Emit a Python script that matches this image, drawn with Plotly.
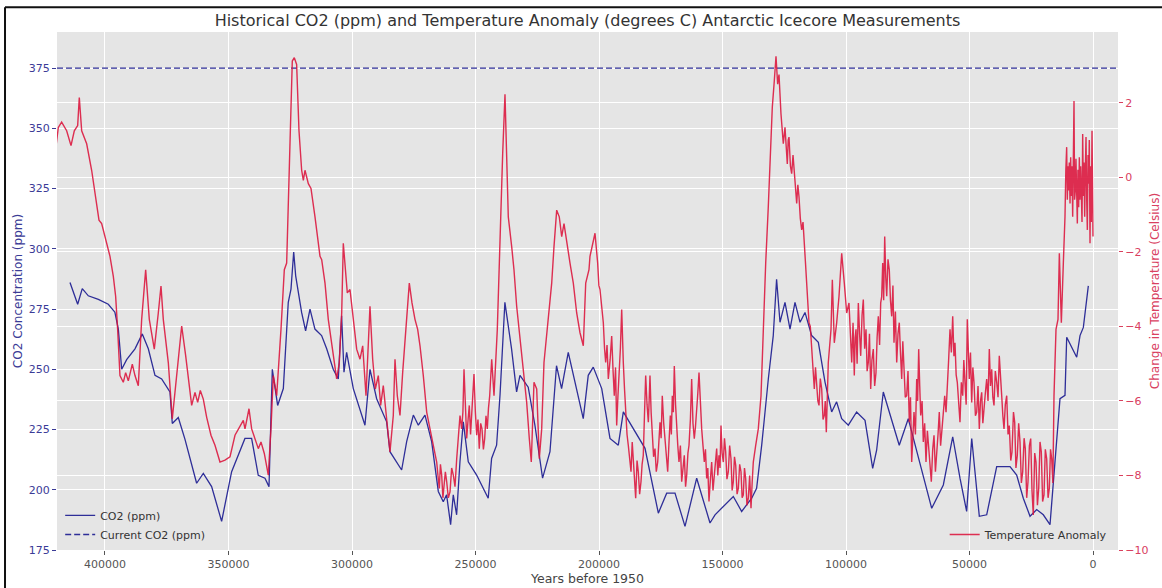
import plotly.graph_objects as go

# ---------------- data ----------------
co2_years = [
    414170, 411060, 409200, 406760, 402700, 398660, 396000, 394600, 393240, 391230,
    387860, 384900, 382460, 379760, 377060, 373700, 372750, 370320, 367640, 362900,
    360200, 356830, 352780, 348730, 343340, 340640, 337950, 335240, 333600, 332260,
    330100, 327800, 325800, 324700, 323600, 322800, 320400, 318780, 317000, 315000,
    312300, 310250, 307600, 305550, 304200, 303240, 302170, 299470, 294750, 292720,
    290020, 285970, 284620, 279900, 277870, 275170, 273150, 270450, 267750, 265050,
    263050, 261700, 260070, 259000, 257640, 256290, 254950, 252920, 249540, 244850,
    243480, 241460, 240080, 238100, 235400, 233360, 232000, 228660, 225950, 222840,
    219850, 217200, 215140, 212450, 206370, 204350, 202320, 198900, 195550, 192180,
    190150, 185420, 181370, 175970, 172600, 169230, 165180, 160450, 155060, 153030,
    145620, 142240, 138180, 136190, 134130, 131450, 129450, 128100, 126720, 124700,
    122670, 120650, 118600, 116600, 113900, 111200, 108500, 105800, 103800, 101750,
    99060, 95700, 92300, 89200, 87600, 84900, 81540, 78440, 74800, 70080,
    65300, 60600, 56800, 53850, 51150, 49100, 46030, 43040, 38990, 33600,
    30900, 28220, 25500, 22800, 20120, 17410, 15380, 13360, 11340, 10650,
    6600, 5260, 3910, 1890,
]
co2_ppm = [
    286, 277, 283.5, 280.5, 279, 277, 273.7, 266.7, 250, 254,
    258.5, 264.7, 258.5, 247.5, 246, 240.6, 227.5, 230, 221, 202.7,
    206.8, 201.3, 186.9, 207.5, 221.3, 221.3, 206, 204.8, 201.3, 250,
    235, 242, 277.8, 283.3, 298.7, 288.8, 273.6, 266, 275, 266.7,
    264, 258.5, 250, 246, 272.2, 248.8, 257, 242, 226.8, 250,
    237.8, 228.2, 215.8, 208.2, 220, 231, 226.8, 231, 220, 199.3,
    195, 197.9, 185.5, 197.9, 189.6, 211.6, 228.2, 211.6, 206.1, 196.5,
    213, 218.5, 239.2, 277.8, 258.5, 240.6, 247.5, 242.6, 226.8, 204.8,
    215.8, 251.5, 242, 257, 229.5, 247.5, 250.9, 242, 221.3, 218.5,
    232.3, 224, 217.2, 190.3, 198.6, 198.6, 184.8, 204.8, 186.2, 189.6,
    197.2, 191, 196.5, 200.6, 218.5, 246, 264, 287.4, 269.5, 277.8,
    266.7, 277.8, 269.5, 273.6, 264, 261.2, 244.7, 232.3, 236.5, 229.5,
    226.8, 232.3, 228.8, 208.9, 216.4, 240.6, 229.5, 218.5, 229.5, 211.6,
    192.3, 202, 222, 204.8, 191, 221.3, 189, 189.6, 209.6, 209.6,
    206.1, 196.5, 189, 191.8, 189.6, 185.5, 211.6, 237.8, 239.2, 263.3,
    255, 264, 267.4, 284.6,
]

temp_years = [
    420200, 418900, 417550, 415520, 413760, 412420, 411060, 410400, 409440, 407420,
    405400, 404050, 402430, 401350, 399730, 397980, 396630, 395690, 394880, 393940,
    392590, 391640, 390560, 388940, 387860, 386510, 385150, 383530, 382060, 380040,
    378420, 377330, 376400, 374370, 372760, 370970, 368950, 367330, 366270, 364910,
    363560, 362480, 361410, 360200, 358830, 357090, 355470, 353450, 351420, 349400,
    347370, 345350, 344000, 343320, 341700, 340620, 339280, 337930, 336850, 335500,
    333890, 332800, 331860, 330490, 328750, 327400, 326450, 325110, 324170, 323360,
    322410, 321460, 320380, 319700, 319030, 317680, 316600, 314980, 312950, 312270,
    310930, 309600, 308230, 307290, 306210, 305140, 304170, 303520, 302710, 301900,
    300810, 299460, 298110, 296760, 295670, 294330, 292720, 291630, 290560, 289350,
    288400, 287330, 285970, 284620, 283280, 282590, 281660, 280570, 279490, 278550,
    277610, 276800, 275710, 274500, 273410, 272470, 271130, 269760, 268420, 267080,
    265710, 265200, 264650, 264200, 263690, 263200, 262750, 262200, 261660, 261000,
    260320, 259650, 258980, 258300, 257610, 256950, 256270, 255600, 255100, 254650,
    254100, 253560, 253000, 252510, 252000, 251540, 251100, 250610, 250050, 249520,
    249000, 248470, 247900, 247370, 246800, 246280, 245750, 245220, 244750, 244250,
    243440, 242510, 241170, 240360, 239000, 238060, 237370, 236720, 235350,
    234420, 233330, 231990, 230650, 229280, 228220, 227410, 226320, 225220, 224170,
    223200, 222270, 221170, 220120, 219150, 218220, 217130, 216080, 215100, 214170,
    213080, 211740, 210400, 209030, 207690, 206350, 205380, 204050, 203650, 201620,
    200540, 200050, 199600, 198900, 198250, 197750, 197300, 196750, 196230, 195500,
    194860, 194300, 193810, 193300, 192840, 192350, 191900, 191350, 190810, 190500,
    190160, 189650, 189190, 188650, 188140, 187600, 187040, 186550, 186110, 185650,
    185150, 184600, 184090, 183550, 183000, 182550, 182070, 181600, 181100, 180550,
    180020, 179700, 179360, 178900, 178430, 177900, 177330, 176800, 176230, 175750,
    175300, 174850, 174380, 173800, 173280, 172750, 172190, 171650, 171120, 170700,
    170320, 169900, 169510, 169000, 168550, 168100, 167610, 167050, 166520, 166000,
    165460, 164950, 164490, 164000, 163560, 163000, 162480, 161950, 161420, 160950,
    160450, 160000, 159510, 158950, 158430, 157900, 157370, 156900, 156400, 155950,
    155470, 154900, 154380, 153850, 153320, 152850, 152360, 151900, 151420, 151000,
    150610, 150150, 149670, 149200, 148710, 148200, 147640, 147100, 146560, 146100,
    145620, 145150, 144660, 144100, 143600, 143050, 142510, 142050, 141570, 141100,
    140620, 140100, 139550, 139000, 138460, 138000, 137530,
    136560, 135510, 134410, 133480, 132510, 131460,
    130770, 129840, 129030, 128340, 127670, 127120, 126320, 125380, 124700, 123760,
    123400, 123080, 122500, 121990, 121450, 120920, 120450, 119960, 119500, 119030,
    118500, 117940, 117400, 116880, 116400, 115920, 115450, 114980, 114450, 113890,
    113350, 112830, 112350, 111860, 111400, 110930, 110400, 109840, 109300, 108780,
    108400, 107970,
    107170, 106070, 105530, 104740, 103770, 102830, 101740, 100690, 99720, 98790,
    97690, 97150, 96640, 96300, 95950, 95500, 95010, 94500, 94050, 93500,
    92990, 92450, 91900, 91450, 90970, 90500, 90000, 89500, 88950, 88400,
    87860, 87400, 86920, 86400, 85950, 85550, 85140, 84750, 84330, 83900,
    83520, 83000, 82470, 82000, 81500, 81000, 80570, 80000, 79470, 78950,
    78420, 77950, 77450, 77000, 76520, 76000, 75430, 74900, 74370, 73900,
    73400, 72900, 72470, 71900, 71380, 71000, 70570, 70150, 69760, 69200,
    68700, 68150, 67610, 67050, 66520, 66000, 65460, 64900, 64370, 63800,
    63280, 62750, 62230, 61700, 61130, 60600, 60040, 59500, 58990, 58450,
    57890, 57350, 56800, 56300, 55870, 55400, 54940, 54400, 53850, 53300,
    52750, 52300, 51820, 51350, 50890, 50500, 50080, 49600, 49110, 48650,
    48180, 47600, 47080, 46550, 46030, 45550, 45060, 44600, 44130, 43600,
    43040, 42500, 41980, 41500, 41010, 40550, 40080, 39550, 38990, 38450,
    37940, 37450, 36960, 36500, 36030, 35500,
    34940, 34400, 33890, 33300, 32790, 32200, 31700, 31200, 30650, 30100,
    29550, 29000, 28460, 27900, 27410, 26850, 26320, 25750, 25220, 24700,
    24170, 23600, 23080, 22500, 21980, 21450, 20930, 20400, 19840, 19300,
    18750, 18200, 17690, 17200, 16720, 16250, 15790, 14980, 14170, 13630,
    12820, 12010,
    11340, 11000, 10660, 10400, 10100, 9850, 9600, 9300, 9040, 8800,
    8500, 8230, 7950, 7690, 7450, 7150, 6900, 6600, 6340, 6100,
    5800, 5530, 5300, 5000, 4720, 4450, 4180, 3900, 3650, 3370,
    3100, 2830, 2550, 2290, 2000, 1750, 1500, 1210, 950, 700,
    400, 200, 0,
]
temp_anomaly = [
    0.63, 1.34, 1.48, 1.25, 0.85, 1.25, 1.39, 2.14, 1.25, 0.90,
    0.19, -0.44, -1.15, -1.24, -1.64, -2.12, -2.66, -3.19, -4.08, -5.32,
    -5.50, -5.24, -5.46, -5.01, -5.32, -5.59, -3.81, -2.48, -3.81, -4.61,
    -3.64, -2.92, -3.81, -4.97, -6.48, -5.32, -3.99, -4.79, -5.32, -6.12,
    -5.77, -6.04, -5.72, -5.95, -6.44, -6.92, -7.19, -7.64, -7.59, -7.50,
    -6.92, -6.66, -6.52, -6.75, -6.21, -6.75, -7.01, -7.28, -7.10, -7.41,
    -7.99, -6.75, -5.32, -5.86, -4.08, -2.48, -2.30, 0.90, 3.12, 3.21,
    3.03, 1.25, 0.19, -0.08, 0.19, -0.17, -0.30, -1.06, -2.12, -2.21,
    -2.84, -3.81, -4.52, -4.97, -5.41, -4.97, -3.64, -1.77, -2.48, -3.10,
    -3.01, -3.90, -4.61, -4.88, -4.52, -5.86, -3.46, -4.88, -5.68, -5.32,
    -6.12, -5.59, -6.57, -7.37, -6.39, -4.88, -5.86, -6.39, -5.24, -4.35,
    -3.64, -2.84, -3.37, -3.81, -4.08, -4.52, -5.32, -6.30, -6.75, -7.19,
    -7.64, -8.0, -8.35, -7.7, -7.99, -8.6, -8.35, -7.9, -8.17, -8.6,
    -8.44, -7.8, -7.99, -8.3, -7.55, -7.0, -6.39, -6.75, -6.3, -5.15,
    -6.4, -7.01, -6.5, -6.12, -6.9, -6.39, -6.0, -5.28, -6.3, -6.92,
    -6.5, -7.28, -6.6, -6.75, -7.3, -7.01, -6.4, -6.75, -6.2, -5.86,
    -4.88, -5.86, -4.08, -2.12, 0.63, 2.23, 0.54, -1.06, -1.86,
    -2.48, -3.46, -4.35, -5.24, -6.04, -7.01, -7.64, -5.50, -5.68, -7.55,
    -6.75, -4.97, -4.26, -3.55, -2.84, -1.86, -0.88, -1.06, -1.59, -1.24,
    -1.77, -2.30, -2.84, -3.64, -4.17, -4.52, -2.84, -2.48, -2.12, -1.50,
    -2.30, -2.9, -3.01, -3.6, -3.90, -4.6, -4.97, -4.5, -5.41, -4.9,
    -4.26, -5.2, -5.86, -5.1, -6.66, -5.9, -5.41, -4.6, -3.55, -4.6,
    -4.97, -5.7, -6.30, -6.9, -7.19, -7.5, -7.90, -7.1, -7.64, -8.2,
    -8.61, -7.6, -7.90, -8.5, -8.17, -7.7, -7.46, -6.4, -5.32, -6.1,
    -6.57, -6.0, -5.32, -6.3, -6.75, -7.5, -7.28, -7.9, -7.64, -7.1,
    -6.57, -7.0, -5.86, -6.6, -7.01, -7.6, -7.90, -7.1, -6.39, -6.9,
    -5.86, -6.3, -5.06, -6.1, -6.92, -7.2, -7.64, -7.2, -8.17, -7.7,
    -7.46, -8.3, -7.99, -7.4, -7.19, -6.5, -5.41, -6.6, -7.01, -6.7,
    -6.30, -5.8, -5.24, -6.1, -6.75, -7.2, -7.64, -7.3, -8.08, -7.8,
    -8.70, -8.1, -7.64, -8.4, -7.99, -7.6, -7.28, -8.0, -7.46, -7.8,
    -6.66, -7.4, -7.64, -7.0, -7.37, -8.1, -7.90, -7.2, -7.55, -8.4,
    -8.17, -7.5, -7.72, -8.5, -8.35, -7.7, -7.90, -8.6, -8.52, -7.8,
    -8.08, -8.8, -8.61, -8.0, -8.88, -8.2, -7.64,
    -7.19, -6.75, -5.86, -4.08, -2.30, -0.79,
    0.54, 1.88, 2.59, 3.25, 2.50, 2.76, 1.70, 0.90, 1.34, 0.36,
    1.0, 1.08, 0.3, 0.10, 0.6, 0.19, -0.3, -0.70, -0.2, -0.52,
    -1.1, -1.41, -1.2, -1.95, -2.3, -2.84, -3.3, -3.90, -4.0, -4.61,
    -5.1, -5.68, -5.1, -5.50, -6.0, -6.12, -5.4, -5.68, -6.5, -6.39,
    -6.0, -6.84,
    -4.97, -4.08, -2.75, -4.44, -3.90, -3.19, -2.04, -2.84, -3.64, -3.37,
    -4.97, -3.9, -5.32, -4.3, -4.08, -5.0, -3.37, -4.2, -4.79, -3.7,
    -3.28, -4.6, -4.08, -5.2, -4.97, -4.2, -5.68, -4.9, -4.61, -5.6,
    -5.24, -4.3, -3.73, -4.5, -3.37, -3.2, -2.30, -3.3, -1.59, -2.7,
    -3.19, -2.2, -2.48, -3.3, -3.73, -2.9, -4.44, -3.6, -4.97, -4.2,
    -3.90, -4.7, -5.41, -4.4, -4.97, -5.9, -5.86, -5.2, -6.57, -5.9,
    -7.64, -6.8, -6.30, -6.9, -5.41, -6.0, -4.61, -5.6, -6.39, -6.0,
    -7.10, -6.6, -7.64, -6.8, -7.28, -7.9, -8.17, -7.3, -6.92, -7.9,
    -7.46, -6.9, -6.30, -7.2, -6.75, -6.2, -5.86, -6.3, -5.41, -4.9,
    -4.08, -4.7, -3.73, -4.8, -4.44, -5.3, -5.50, -6.2, -6.57, -5.5,
    -5.86, -4.9, -5.41, -6.1, -3.81, -4.9, -5.41, -4.7, -6.04, -5.1,
    -5.50, -6.4, -6.30, -5.6, -6.75, -6.0, -5.77, -6.6, -6.30, -5.8,
    -5.41, -6.0, -4.61, -5.6, -5.15, -5.9, -6.12, -5.2, -5.50, -5.9,
    -4.79, -5.5, -5.86, -6.4, -6.75, -6.1,
    -5.86, -6.9, -6.66, -7.6, -7.37, -6.3, -6.57, -7.8, -7.46, -6.6,
    -7.10, -8.2, -7.90, -7.0, -7.28, -8.6, -8.17, -7.2, -7.01, -8.4,
    -9.06, -7.4, -7.64, -8.8, -8.35, -7.1, -7.37, -8.7, -8.52, -7.3,
    -7.55, -8.6, -8.35, -7.3, -7.55, -8.2, -5.86, -4.08, -3.81, -2.04,
    -3.90, -2.30,
    -1.06, 0.2, 0.81, -0.6, 0.3, -0.35, 0.4, -0.7, 0.54, -0.5,
    0.3, -1.06, 0.1, 2.05, -0.6, -0.35, 0.5, -0.9, -1.24, 0.2,
    -0.8, 0.54, -0.6, 0.3, -0.35, -1.2, 1.16, -0.5, 0.4, -1.06,
    0.2, 1.08, -0.6, -1.41, 0.6, -0.17, 1.0, -1.77, 0.3, -1.2,
    1.25, -0.8, -1.59,
]

current_co2 = 375

x_range = [419430, -10120]
x_ticks = [0, 50000, 100000, 150000, 200000, 250000, 300000, 350000, 400000]
co2_ticks = [175, 200, 225, 250, 275, 300, 325, 350, 375]
temp_ticks = [-10, -8, -6, -4, -2, 0, 2]

# ---------------- styling ----------------
FONT = "DejaVu Sans"
BLUE = "#2e2e98"
BLUE_TXT = "#3b3b96"
RED = "#dc143c"
RED_TXT = "#d9405f"
GRID = "#ffffff"
BG = "#e5e5e5"

fig = go.Figure()

fig.add_trace(go.Scatter(
    x=co2_years, y=co2_ppm, mode="lines", name="CO2 (ppm)",
    line=dict(color=BLUE, width=1.3), legend="legend",
))

fig.add_trace(go.Scatter(
    x=x_range, y=[current_co2, current_co2], mode="lines", name="Current CO2 (ppm)",
    line=dict(color=BLUE, width=1.4, dash="6px,3px"), legend="legend", hoverinfo="skip",
))

fig.add_trace(go.Scatter(
    x=temp_years, y=temp_anomaly, mode="lines", name="Temperature Anomaly",
    line=dict(color=RED, width=1.4), opacity=0.88, yaxis="y2", legend="legend2",
))

# thin black frame seen at the top/left edge of the picture
fig.add_shape(type="line", xref="paper", yref="paper", x0=-0.049, x1=1.05, y0=1.048, y1=1.048,
              line=dict(color="#111111", width=2))
fig.add_shape(type="line", xref="paper", yref="paper", x0=-0.049, x1=-0.049, y0=-0.1, y1=1.048,
              line=dict(color="#111111", width=2))

fig.update_layout(
    width=1162, height=588,
    margin=dict(l=57, r=44, t=32, b=38),
    paper_bgcolor="white", plot_bgcolor=BG,
    font=dict(family=FONT, size=11, color="#555555"),
    title=dict(
        text="Historical CO2 (ppm) and Temperature Anomaly (degrees C) Antarctic Icecore Measurements",
        x=0.5, xref="paper", xanchor="center", y=0.966, yref="container", yanchor="middle",
        font=dict(family=FONT, size=16, color="#333333"),
    ),
    xaxis=dict(
        range=x_range, tickvals=x_ticks, tickformat="d",
        showgrid=True, gridcolor=GRID, gridwidth=1, zeroline=False,
        ticks="outside", ticklen=4, tickcolor="#555555",
        tickfont=dict(size=11, color="#555555"),
        title=dict(text="Years before 1950", standoff=2, font=dict(size=12.5, color="#444444")),
        showline=False, automargin=False,
    ),
    yaxis=dict(
        range=[175, 390], tickvals=co2_ticks,
        showgrid=True, gridcolor=GRID, gridwidth=1, zeroline=False,
        ticks="outside", ticklen=4, tickcolor=BLUE_TXT,
        tickfont=dict(size=11, color=BLUE_TXT),
        title=dict(text="CO2 Concentration (ppm)", standoff=3, font=dict(size=12, color=BLUE_TXT)),
        showline=False, automargin=False,
    ),
    yaxis2=dict(
        range=[-10, 3.9], tickvals=temp_ticks, overlaying="y", side="right",
        showgrid=True, gridcolor=GRID, gridwidth=1, zeroline=False,
        ticks="outside", ticklen=4, tickcolor=RED_TXT,
        tickfont=dict(size=11, color=RED_TXT),
        title=dict(text="Change in Temperature (Celsius)", standoff=7, font=dict(size=12, color=RED_TXT)),
        showline=False, automargin=False,
    ),
    legend=dict(
        x=0.003, y=0.002, xanchor="left", yanchor="bottom",
        bgcolor="rgba(0,0,0,0)", font=dict(size=11, color="#333333"),
        itemwidth=30, tracegroupgap=0,
    ),
    legend2=dict(
        x=0.995, y=0.002, xanchor="right", yanchor="bottom",
        bgcolor="rgba(0,0,0,0)", font=dict(size=11, color="#333333"),
        itemwidth=30,
    ),
)

fig.write_html(
    "out.html",
    config={"displayModeBar": False},
    post_script="document.body.style.margin='0px';document.body.style.overflow='hidden';",
)
